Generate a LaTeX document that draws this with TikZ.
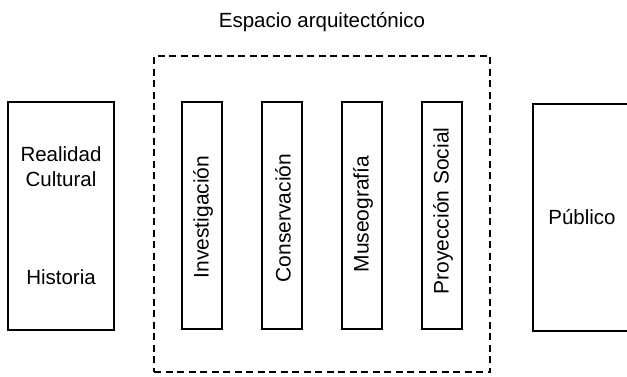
\documentclass[tikz,border=0pt]{standalone}
\usepackage{fontspec}
\setmainfont{Liberation Sans}
\begin{document}
\begin{tikzpicture}[x=1pt,y=-1pt,
  box/.style={draw, line width=1.7pt, inner sep=0pt},
  colbox/.style={box, minimum width=40pt, minimum height=227pt},
  lbl/.style={font=\fontsize{20.5}{25}\selectfont, inner sep=0pt, align=center},
  vlbl/.style={font=\fontsize{21}{25}\selectfont, inner sep=0pt, rotate=90}]
\useasboundingbox (0,0) rectangle (627,376);
\clip (0,0) rectangle (627,376);
% title
\node[lbl] (title) at (322,22) {Espacio arquitectónico};
% dashed architectural space
\node[draw, line width=1.9pt, dash pattern=on 7pt off 4.5pt, inner sep=0pt,
      minimum width=336pt, minimum height=316pt] (space) at (322,214) {};
% left box
\node[box, minimum width=106pt, minimum height=228pt] (real) at (61,216) {};
\node[lbl] (rc) at (61,167) {Realidad\\Cultural};
\node[lbl] (hist) at (61,277) {Historia};
% inner boxes
\node[colbox] (inv) at (202,215.5) {};
\node[colbox] (cons) at (282,215.5) {};
\node[colbox] (mus) at (362,215.5) {};
\node[colbox] (proy) at (442,215.5) {};
\node[vlbl] (tinv) at (203,217) {Investigación};
\node[vlbl] (tcons) at (283,218) {Conservación};
\node[vlbl] (tmus) at (363,214) {Museografía};
\node[vlbl] (tproy) at (443,211) {Proyección Social};
% public box (cut off at the right edge)
\node[box, minimum width=140pt, minimum height=227pt, anchor=north west] (pub) at (532,103) {};
\node[lbl] (tpub) at (582,217) {Público};
\end{tikzpicture}
\end{document}
